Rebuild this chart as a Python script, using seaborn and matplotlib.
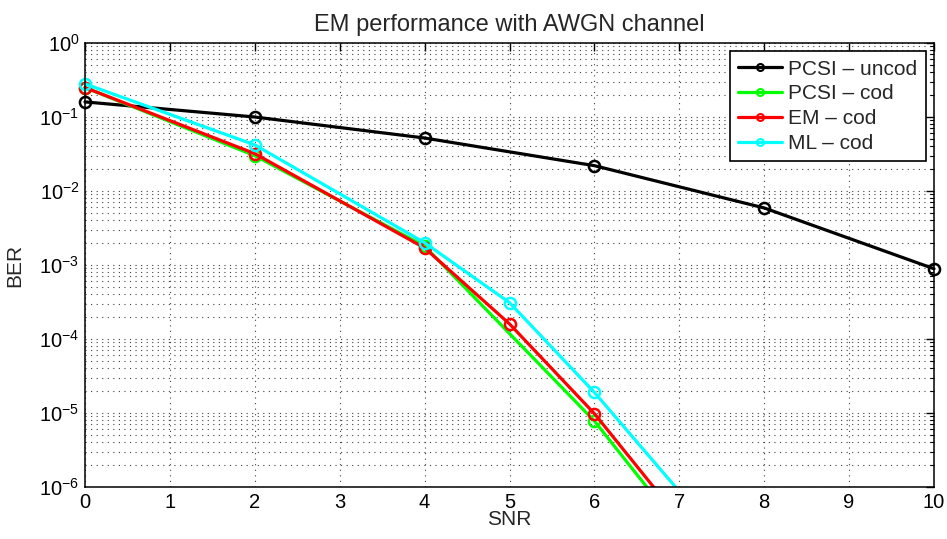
import matplotlib
matplotlib.use("Agg")
import matplotlib.pyplot as plt
import matplotlib.ticker as mticker
import matplotlib.transforms as mtransforms
import seaborn as sns
import pandas as pd
import numpy as np

# ---- data ----
snr_uncod = [0, 2, 4, 6, 8, 10]
ber_pcsi_uncod = [0.16, 0.10, 0.052, 0.022, 0.0059, 8.9e-4]

snr_pcsi_cod = [0, 2, 4, 6, 8]
ber_pcsi_cod = [0.25, 0.030, 1.8e-3, 7.8e-6, 1.0e-8]

snr_em_cod = [0, 2, 4, 5, 6, 8]
ber_em_cod = [0.25, 0.032, 1.7e-3, 1.6e-4, 9.8e-6, 1.4e-8]

snr_ml_cod = [0, 2, 4, 5, 6, 8]
ber_ml_cod = [0.28, 0.042, 2.0e-3, 3.1e-4, 1.9e-5, 4.0e-8]

labels = ["PCSI \u2013 uncod", "PCSI \u2013 cod", "EM \u2013 cod", "ML \u2013 cod"]
colors = ["#000000", "#00ff00", "#ff0000", "#00ffff"]

x_ticks = list(range(0, 11))
y_ticks = [1e-6, 1e-5, 1e-4, 1e-3, 1e-2, 1e-1, 1e0]
title = "EM performance with AWGN channel"
xlabel = "SNR"
ylabel = "BER"

# ---- plot ----
sns.set_style("white")
plt.rcParams["font.family"] = ["Liberation Sans", "DejaVu Sans"]
plt.rcParams["mathtext.fontset"] = "custom"
plt.rcParams["mathtext.rm"] = "Liberation Sans"
plt.rcParams["mathtext.it"] = "Liberation Sans"
plt.rcParams["mathtext.default"] = "regular"

fig = plt.figure(figsize=(9.47, 5.39), dpi=100)
ax = fig.add_axes([85 / 947, 1 - 487 / 539, (934 - 85) / 947, (487 - 43) / 539])

series = [
    (snr_uncod, ber_pcsi_uncod),
    (snr_pcsi_cod, ber_pcsi_cod),
    (snr_em_cod, ber_em_cod),
    (snr_ml_cod, ber_ml_cod),
]
for (xs, ys), lab, col in zip(series, labels, colors):
    df = pd.DataFrame({"SNR": xs, "BER": ys})
    sns.lineplot(data=df, x="SNR", y="BER", ax=ax, color=col, label=lab,
                 marker="o", markersize=8, markerfacecolor="none",
                 markeredgecolor=col, markeredgewidth=1.8, linewidth=2.3,
                 sort=False, estimator=None)

# clip only vertically (let edge markers show fully at x=0 and x=10)
clip = mtransforms.TransformedBbox(mtransforms.Bbox([[-0.02, 0.0], [1.02, 1.0]]), ax.transAxes)
for ln in ax.lines:
    ln.set_clip_box(clip)

ax.set_yscale("log")
ax.set_xlim(0, 10)
ax.set_ylim(1e-6, 1)
ax.set_xticks(x_ticks)
ax.set_xticklabels([str(t) for t in x_ticks])
ax.yaxis.set_major_locator(mticker.FixedLocator(y_ticks))
ax.yaxis.set_major_formatter(mticker.LogFormatterSciNotation())
minor = [m * d for d in y_ticks[:-1] for m in range(2, 10)]
ax.yaxis.set_minor_locator(mticker.FixedLocator(minor))
ax.yaxis.set_minor_formatter(mticker.NullFormatter())

grid_kw = dict(color="#404040", linestyle=(0, (1, 4)), linewidth=0.8)
ax.grid(True, which="major", axis="both", **grid_kw)
ax.grid(True, which="minor", axis="y", **grid_kw)
ax.set_axisbelow(True)

ax.tick_params(which="both", direction="in", top=True, right=True, labelsize=14.5, colors="black")
ax.tick_params(which="major", length=6, width=1, pad=4)
ax.tick_params(which="minor", length=3, width=0.8)
for s in ax.spines.values():
    s.set_color("black")
    s.set_linewidth(1.1)

ax.set_title(title, fontsize=17, pad=9)
ax.set_xlabel(xlabel, fontsize=15, labelpad=-1)
ax.set_ylabel(ylabel, fontsize=15, labelpad=11)

leg = ax.legend(loc="upper right", fontsize=15, frameon=True, fancybox=False,
                edgecolor="black", framealpha=1, handlelength=2.1,
                borderaxespad=0.4, borderpad=0.4, labelspacing=0.28,
                handletextpad=0.3)
leg.get_frame().set_linewidth(1.2)
for h in leg.get_lines():
    h.set_markersize(5)
    h.set_markeredgewidth(1.5)

fig.savefig("out.png", dpi=100)
